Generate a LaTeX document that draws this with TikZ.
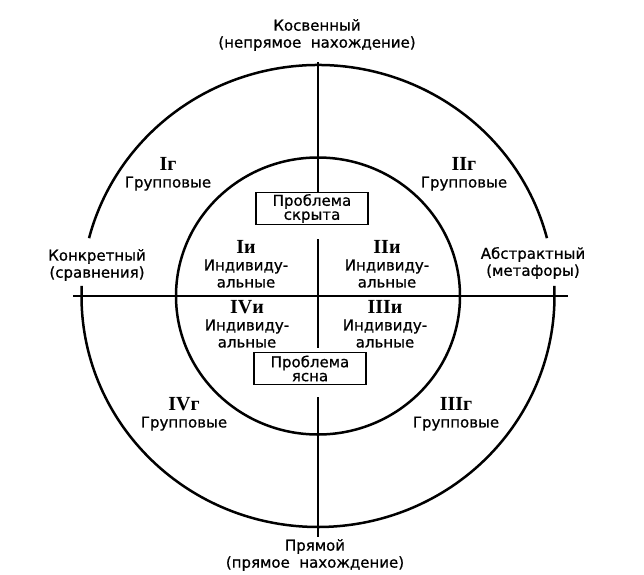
\documentclass[tikz,border=0pt]{standalone}
\usepackage{fontspec}
\setmainfont{DejaVu Sans}[FakeBold=0.8]
\newfontfamily\romfont{Liberation Serif}

\begin{document}
\begin{tikzpicture}[x=1pt,y=-1pt,
    lbl/.style={align=center,inner sep=0pt,font=\fontsize{15}{17}\selectfont},
    prob box/.style={draw,line width=1.8pt,minimum width=112pt,minimum height=32pt,inner sep=1pt,align=center,font=\fontsize{15}{14}\selectfont},
    ring/.style={line width=2.5pt},
    axis/.style={line width=2.8pt}]
    \useasboundingbox (0,0) rectangle (644,574);

    \coordinate (ctr) at (318,296);
    \coordinate (west) at (73,296);
    \coordinate (east) at (568,296);
    \coordinate (north) at (318,62);
    \coordinate (south) at (318,537);
    \coordinate (midtop) at (318,239);
    \coordinate (midbot) at (318,348);
    \coordinate (lowtop) at (318,397);

    % circles
    \draw[ring] (ctr) ellipse[x radius=142pt,y radius=138.5pt];
    \draw[ring] (ctr) ++(14.5:236.5pt and 231pt) arc[start angle=14.5,end angle=165.5,x radius=236.5pt,y radius=231pt];
    \draw[ring] (ctr) ++(177.5:236.5pt and 231pt) arc[start angle=177.5,end angle=362.5,x radius=236.5pt,y radius=231pt];

    % boxes
    \node[prob box] (hidden) at (312,208.5) {Проблема\\скрыта};
    \node[prob box] (clear) at (310,368.5) {Проблема\\ясна};

    % axes
    \draw[axis] (west) -- (east);
    \draw[axis] (north) -- (north |- hidden.north);
    \draw[axis] (midtop) -- (midbot);
    \draw[axis] (lowtop) -- (south);

    % poles
    \node[lbl] (indirect) at (317,35) {Косвенный\\(непрямое\ \ нахождение)};
    \node[lbl] (direct) at (315,555) {Прямой\\(прямое\ \ нахождение)};
    \node[lbl] (concrete) at (97,265) {Конкретный\\(сравнения)};
    \node[lbl] (abstract) at (533,263) {Абстрактный\\(метафоры)};

    % group quadrants
    \node[lbl] (g1) at (168,174) {{\romfont\bfseries\fontsize{20}{17}\selectfont Iг}\\Групповые};
    \node[lbl] (g2) at (464,174) {{\romfont\bfseries\fontsize{20}{17}\selectfont IIг}\\Групповые};
    \node[lbl] (g3) at (456,414) {{\romfont\bfseries\fontsize{20}{17}\selectfont IIIг}\\Групповые};
    \node[lbl] (g4) at (184,414) {{\romfont\bfseries\fontsize{20}{17}\selectfont IVг}\\Групповые};

    % individual quadrants
    \node[lbl] (i1) at (246,264) {{\romfont\bfseries\fontsize{20}{17}\selectfont Iи}\\Индивиду-\\альные};
    \node[lbl] (i2) at (387,264) {{\romfont\bfseries\fontsize{20}{17}\selectfont IIи}\\Индивиду-\\альные};
    \node[lbl] (i3) at (385,324) {{\romfont\bfseries\fontsize{20}{17}\selectfont IIIи}\\Индивиду-\\альные};
    \node[lbl] (i4) at (247,324) {{\romfont\bfseries\fontsize{20}{17}\selectfont IVи}\\Индивиду-\\альные};
\end{tikzpicture}
\end{document}
